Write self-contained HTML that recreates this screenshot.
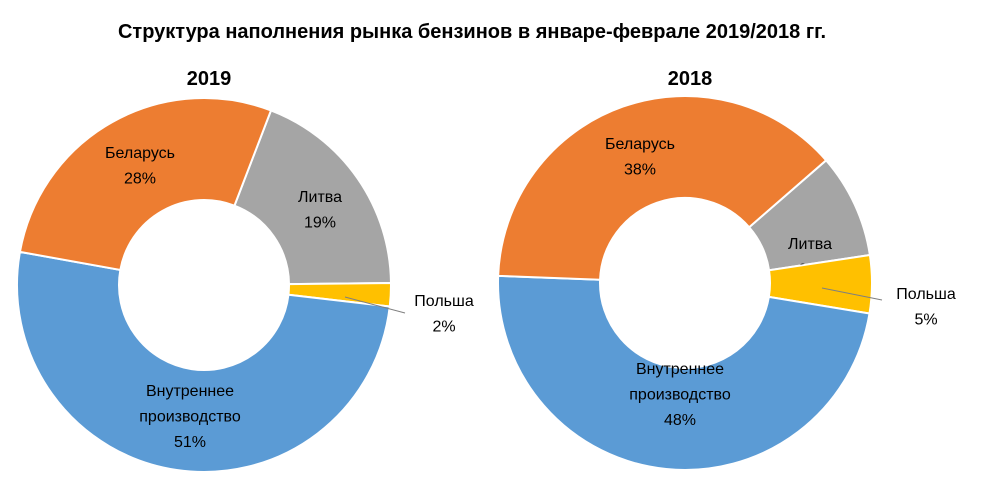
<!DOCTYPE html>
<html><head><meta charset="utf-8"><style>
body{margin:0;background:#fff;width:992px;height:496px;overflow:hidden}
svg text{font-family:"Liberation Sans",sans-serif}
</style></head><body>
<svg id="chart" width="992" height="496">
<text x="472" y="38" text-anchor="middle" font-size="20" font-weight="bold" fill="#000">Структура наполнения рынка бензинов в январе-феврале 2019/2018 гг.</text>
<text x="209" y="85" text-anchor="middle" font-size="20" font-weight="bold">2019</text>
<text x="690" y="85" text-anchor="middle" font-size="20" font-weight="bold">2018</text>
<g id="g2019"></g>
<g id="g2018"></g>
<line x1="345" y1="297" x2="405" y2="313" stroke="#7f7f7f"/>
<line x1="822" y1="288" x2="882" y2="300" stroke="#7f7f7f"/>
</svg>
<script>
const categories = ["Литва","Польша","Внутреннее производство","Беларусь"];
const values2019 = [19,2,51,28];
const values2018 = [9,5,48,38];
const colors = ["#A5A5A5","#FFC000","#5B9BD5","#ED7D31"];
const labelLines = [["Литва"],["Польша"],["Внутреннее","производство"],["Беларусь"]];
const NS="http://www.w3.org/2000/svg";
function pt(cx,cy,r,a){const t=(a-90)*Math.PI/180;return [cx+r*Math.cos(t),cy+r*Math.sin(t)];}
function draw(gid,vals,cx,cy,start,labelPos,key){
  const g=document.getElementById(gid);
  const R=187,r=85,tot=vals.reduce((a,b)=>a+b,0);
  let a=start;
  vals.forEach((v,i)=>{
    const a2=a+v/tot*360,lg=(a2-a)>180?1:0;
    const p1=pt(cx,cy,R,a),p2=pt(cx,cy,R,a2),p3=pt(cx,cy,r,a2),p4=pt(cx,cy,r,a);
    const p=document.createElementNS(NS,"path");
    p.setAttribute("d",`M${p1}A${R},${R} 0 ${lg} 1 ${p2}L${p3}A${r},${r} 0 ${lg} 0 ${p4}Z`);
    p.setAttribute("fill",colors[i]);p.setAttribute("stroke","#fff");p.setAttribute("stroke-width","2");
    
    
    g.appendChild(p);
    const lines=labelLines[i].concat([v+"%"]);
    const [lx,ly]=labelPos[i];
    lines.forEach((s,j)=>{
      const t=document.createElementNS(NS,"text");
      t.setAttribute("x",lx);t.setAttribute("y",ly+j*25.5);
      t.setAttribute("text-anchor","middle");t.setAttribute("font-size","16");t.setAttribute("fill","#000");
      t.textContent=s;
      
      
      g.appendChild(t);
    });
    a=a2;
  });
}
draw("g2019",values2019,204,285,21,[[320,202],[444,306],[190,396],[140,158]],"2019");
draw("g2018",values2018,685,283,49,[[810,249],[926,299],[680,374],[640,149]],"2018");
</script>
</body></html>
